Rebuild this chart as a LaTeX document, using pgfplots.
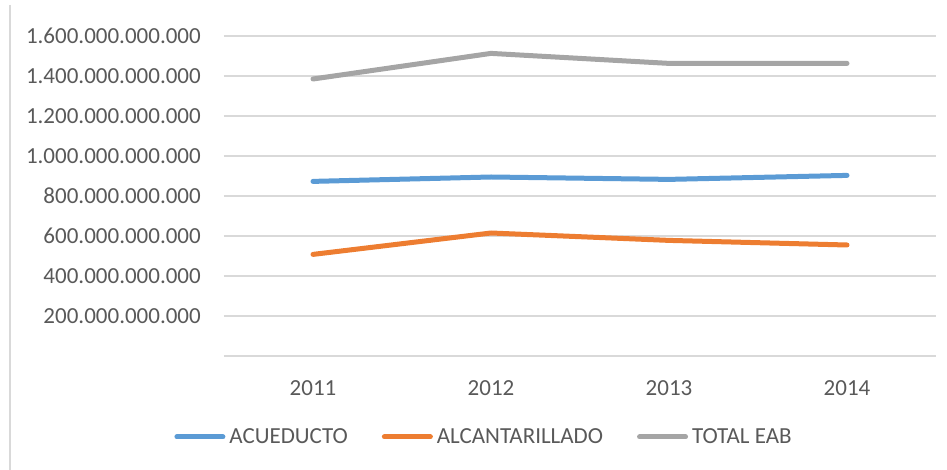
\documentclass[border=0pt]{standalone}
\usepackage{pgfplots}
\pgfplotsset{compat=1.18}
\usepackage{fontspec}
\setmainfont{Carlito}
\definecolor{cBlue}{HTML}{5B9BD5}
\definecolor{cOrange}{HTML}{ED7D31}
\definecolor{cGray}{HTML}{A5A5A5}
\definecolor{gridgray}{HTML}{D9D9D9}
\definecolor{labelgray}{HTML}{595959}
\begin{document}
\begin{tikzpicture}
\useasboundingbox (-224pt,-114pt) rectangle (723pt,356pt);
\draw[gridgray, line width=1.5pt] (-214pt,351pt) -- (-214pt,-114pt);
\begin{axis}[
  scale only axis, width=712pt, height=320pt,
  xmin=-0.5, xmax=3.5, ymin=0, ymax=1600000000000,
  xtick={0,1,2,3}, xticklabels={2011,2012,2013,2014},
  ytick={0,200000000000,400000000000,600000000000,800000000000,1000000000000,1200000000000,1400000000000,1600000000000},
  yticklabels={,200.000.000.000,400.000.000.000,600.000.000.000,800.000.000.000,1.000.000.000.000,1.200.000.000.000,1.400.000.000.000,1.600.000.000.000},
  scaled y ticks=false,
  ymajorgrids, grid style={gridgray, line width=1.5pt},
  axis line style={draw=none},
  major tick length=0pt,
  tick label style={font=\fontsize{23}{27}\selectfont, text=labelgray},
  yticklabel style={anchor=east, inner sep=0pt, xshift=-23pt},
  xticklabel style={anchor=north, inner sep=0pt, yshift=-24pt},
  legend columns=-1,
  legend style={at={(0.3666,-0.253)}, anchor=center, draw=none, fill=none,
    font=\fontsize{23}{27}\selectfont, text=labelgray,
    nodes={inner sep=4pt},
    /tikz/every even column/.append style={column sep=30pt}},
  legend image code/.code={\draw[#1, line width=5pt, line cap=round] (0pt,0pt) -- (46pt,0pt);},
  clip=false,
]
\addplot[cBlue, line width=5pt, line cap=round, line join=round]
  coordinates {(0,873000000000) (1,895000000000) (2,883000000000) (3,903000000000)};
\addlegendentry{ACUEDUCTO}
\addplot[cOrange, line width=5pt, line cap=round, line join=round]
  coordinates {(0,508000000000) (1,615000000000) (2,578000000000) (3,555000000000)};
\addlegendentry{ALCANTARILLADO}
\addplot[cGray, line width=5pt, line cap=round, line join=round]
  coordinates {(0,1385000000000) (1,1513000000000) (2,1463000000000) (3,1463000000000)};
\addlegendentry{TOTAL EAB}
\end{axis}
\end{tikzpicture}
\end{document}
